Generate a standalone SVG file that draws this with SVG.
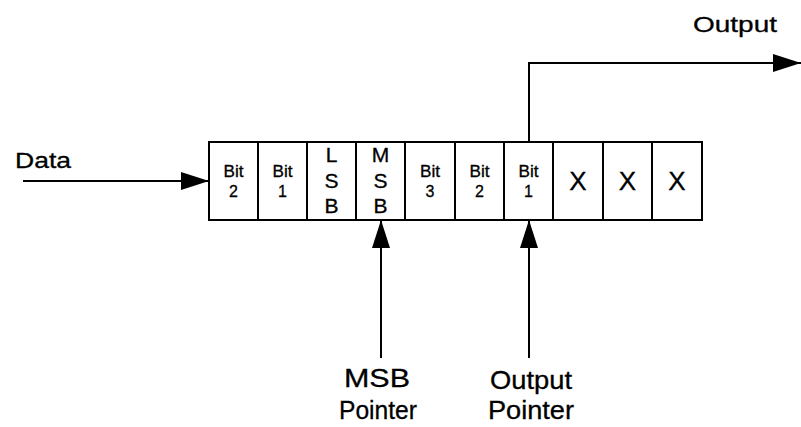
<svg xmlns="http://www.w3.org/2000/svg" width="801" height="427" viewBox="0 0 801 427">
  <style>
    text { font-family: "Liberation Sans", Arial, sans-serif; fill: #000; stroke: #000; stroke-width: 0.3; }
    .lbl { font-size: 22px; }
    .plbl { font-size: 25px; text-anchor: middle; }
    .bit { font-size: 16px; text-anchor: middle; }
    .ltr { font-size: 21px; text-anchor: middle; }
    .x { font-size: 26px; text-anchor: middle; }
    .cell { fill: #fff; stroke: #000; stroke-width: 2; }
    .wire { fill: none; stroke: #000; stroke-width: 2; }
  </style>
  <defs>
    <marker id="arrow" viewBox="0 0 28 18" refX="28" refY="9" markerWidth="28" markerHeight="18" markerUnits="userSpaceOnUse" orient="auto">
      <path d="M0,0 L28,9 L0,18 Z" fill="#000"/>
    </marker>
  </defs>

  <!-- register cells -->
  <g id="cell-bit2-in"><rect class="cell" x="209" y="142" width="49" height="78"/>
    <text class="bit" x="233.5" y="177" textLength="20" lengthAdjust="spacingAndGlyphs">Bit</text><text class="bit" x="233.5" y="197">2</text></g>
  <g id="cell-bit1-in"><rect class="cell" x="258" y="142" width="49" height="78"/>
    <text class="bit" x="282.5" y="177" textLength="20" lengthAdjust="spacingAndGlyphs">Bit</text><text class="bit" x="282.5" y="197">1</text></g>
  <g id="cell-lsb"><rect class="cell" x="307" y="142" width="49" height="78"/>
    <text class="ltr" x="331.5" y="162">L</text><text class="ltr" x="331.5" y="188">S</text><text class="ltr" x="331.5" y="213">B</text></g>
  <g id="cell-msb"><rect class="cell" x="356" y="142" width="49" height="78"/>
    <text class="ltr" x="380.5" y="162">M</text><text class="ltr" x="380.5" y="188">S</text><text class="ltr" x="380.5" y="213">B</text></g>
  <g id="cell-bit3"><rect class="cell" x="405" y="142" width="50" height="78"/>
    <text class="bit" x="430" y="177" textLength="20" lengthAdjust="spacingAndGlyphs">Bit</text><text class="bit" x="430" y="197">3</text></g>
  <g id="cell-bit2-out"><rect class="cell" x="455" y="142" width="49" height="78"/>
    <text class="bit" x="479.5" y="177" textLength="20" lengthAdjust="spacingAndGlyphs">Bit</text><text class="bit" x="479.5" y="197">2</text></g>
  <g id="cell-bit1-out"><rect class="cell" x="504" y="142" width="49" height="78"/>
    <text class="bit" x="528.5" y="177" textLength="20" lengthAdjust="spacingAndGlyphs">Bit</text><text class="bit" x="528.5" y="197">1</text></g>
  <g id="cell-x1"><rect class="cell" x="553" y="142" width="50" height="78"/>
    <text class="x" x="578" y="190">X</text></g>
  <g id="cell-x2"><rect class="cell" x="603" y="142" width="49" height="78"/>
    <text class="x" x="627.5" y="190">X</text></g>
  <g id="cell-x3"><rect class="cell" x="652" y="142" width="50" height="78"/>
    <text class="x" x="677" y="190">X</text></g>

  <!-- labels -->
  <g id="label-data"><text class="lbl" x="15" y="168" textLength="56" lengthAdjust="spacingAndGlyphs">Data</text></g>
  <g id="label-output"><text class="lbl" x="693" y="32" textLength="84" lengthAdjust="spacingAndGlyphs">Output</text></g>
  <g id="label-msb-pointer">
    <text class="plbl" x="377" y="387" textLength="66" lengthAdjust="spacingAndGlyphs">MSB</text>
    <text class="plbl" x="378" y="419" textLength="78" lengthAdjust="spacingAndGlyphs">Pointer</text>
  </g>
  <g id="label-output-pointer">
    <text class="plbl" x="531" y="389" textLength="82" lengthAdjust="spacingAndGlyphs">Output</text>
    <text class="plbl" x="531" y="419" textLength="86" lengthAdjust="spacingAndGlyphs">Pointer</text>
  </g>

  <!-- connectors -->
  <g id="connectors">
    <path class="wire" d="M23,181 H209" marker-end="url(#arrow)"/>
    <path class="wire" d="M529,142 V63 H801" marker-end="url(#arrow)"/>
    <path class="wire" d="M381,358 V220" marker-end="url(#arrow)"/>
    <path class="wire" d="M529,358 V220" marker-end="url(#arrow)"/>
  </g>
</svg>
